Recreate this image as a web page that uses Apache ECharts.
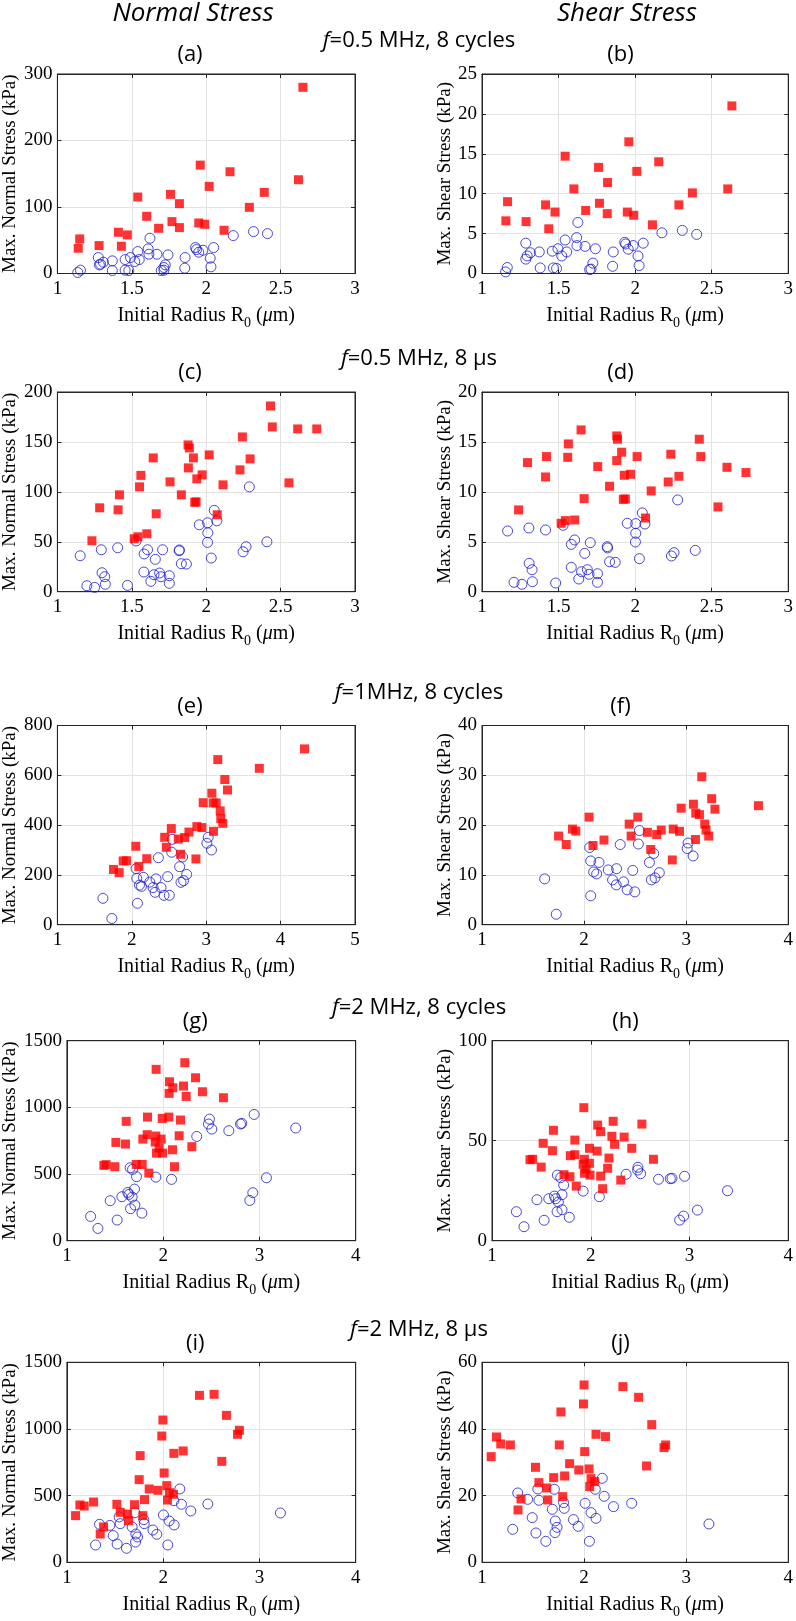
<!DOCTYPE html>
<html><head><meta charset="utf-8">
<script src="https://cdn.jsdelivr.net/npm/echarts@6.0.0/dist/echarts.min.js"></script>
<style>html,body{margin:0;padding:0;background:#fff}#c{width:796px;height:1621px}</style>
</head><body><div id="c"></div>
<script>
// ---------- data (R0 in um, stress in kPa) ----------
const aRed = [[2.65,280],[1.96,163],[2.16,153],[2.02,131],[2.62,141],[2.39,122],[1.54,115],[1.76,119],[1.82,105],[2.29,99.5],[1.60,86],[1.77,78],[1.95,76],[1.99,74],[1.68,68],[1.82,69],[2.12,65],[1.41,62],[1.47,58],[1.15,52],[1.28,42],[1.43,41],[1.14,38]];
const aBlue = [[2.318,63],[2.412,60],[2.182,57],[1.622,53],[2.05,39],[1.928,39],[1.935,36],[1.95,32],[1.978,35],[1.61,37],[1.54,33],[1.615,29],[1.669,29],[1.743,28],[1.858,24],[2.027,23],[1.275,24],[1.491,24],[1.455,21],[1.55,21],[1.52,18],[1.369,19],[1.309,17],[1.282,13],[1.29,14],[1.725,13],[1.716,9],[1.856,8],[2.032,10],[1.369,4.5],[1.455,5],[1.48,4.5],[1.698,4.5],[1.716,5],[1.155,5],[1.137,1.5]];
const bRed = [[2.632,21.0],[1.959,16.5],[1.543,14.7],[2.154,14.0],[1.761,13.3],[2.011,12.8],[1.82,11.4],[1.60,10.6],[2.605,10.6],[2.374,10.1],[1.167,9.0],[1.415,8.6],[1.767,8.8],[1.477,7.7],[1.677,7.9],[2.286,8.6],[1.949,7.7],[1.991,7.3],[1.818,7.5],[1.156,6.6],[1.288,6.5],[2.113,6.1],[1.436,5.6]];
const bBlue = [[2.402,4.9],[2.308,5.4],[2.175,5.1],[1.626,6.4],[1.618,4.5],[1.543,4.2],[1.62,3.5],[1.673,3.4],[1.741,3.1],[1.553,2.7],[1.521,2.2],[1.459,2.8],[1.496,3.1],[1.374,2.7],[1.316,2.6],[1.286,3.8],[1.295,2.2],[1.286,1.8],[2.053,3.8],[1.987,3.5],[1.932,3.9],[1.938,3.7],[1.955,3.05],[1.857,2.7],[2.019,2.2],[1.853,0.9],[2.026,1.0],[1.724,1.3],[1.712,0.55],[1.703,0.5],[1.466,0.7],[1.487,0.63],[1.38,0.7],[1.165,0.75],[1.154,0.2]];
const cRed = [[2.432,186],[2.444,165],[2.615,163],[2.743,163],[2.243,155],[1.878,147],[1.887,144],[1.644,134],[1.914,134],[2.02,137],[2.295,133],[1.88,124],[2.227,122],[1.561,116.5],[1.973,117],[1.937,113],[1.757,110],[2.113,107],[2.556,109],[1.552,105],[1.417,97],[1.833,97],[1.932,90],[1.923,89.5],[1.284,84],[1.408,82],[1.664,78],[2.074,77],[1.601,58],[1.541,55],[1.516,53],[1.232,51]];
const cBlue = [[2.29,105],[2.054,81.5],[2.072,71],[2.009,69],[1.953,67],[2.011,59],[2.009,49.4],[2.034,33.7],[2.408,50],[2.268,45],[2.248,40],[1.82,41.8],[1.818,41],[1.707,42],[1.606,42],[1.583,37.8],[1.529,50.8],[1.658,32.4],[1.405,44],[1.295,42],[1.153,36],[1.3,19],[1.318,15],[1.322,7.4],[1.198,6],[1.25,4.3],[1.471,6.3],[1.581,19.7],[1.649,17],[1.628,10.4],[1.687,18.7],[1.696,15],[1.752,16],[1.752,8.4],[1.833,28],[1.867,27.7]];
const dRed = [[1.297,12.93],[1.421,13.53],[1.564,14.8],[1.647,16.2],[1.56,13.46],[1.415,11.49],[1.239,8.19],[1.517,6.85],[1.545,7.12],[1.605,7.18],[1.667,9.32],[1.756,12.53],[1.833,10.56],[1.88,15.6],[1.885,15.27],[1.88,13.13],[1.912,13.97],[1.929,11.66],[1.97,11.76],[1.923,9.25],[1.936,9.29],[2.013,13.53],[2.105,10.09],[2.068,7.38],[2.216,10.99],[2.233,13.77],[2.286,11.56],[2.419,15.27],[2.429,13.53],[2.541,8.49],[2.6,12.46],[2.724,11.93]];
const dBlue = [[2.278,9.19],[2.047,7.89],[2.064,6.78],[2.004,6.82],[1.949,6.85],[2.004,5.85],[2.002,4.98],[2.028,3.31],[2.393,4.14],[2.254,3.91],[2.237,3.58],[1.818,4.51],[1.82,4.38],[1.707,4.91],[1.605,5.18],[1.583,4.74],[1.53,6.65],[1.671,3.84],[1.415,6.18],[1.306,6.38],[1.167,6.08],[1.308,2.84],[1.327,2.2],[1.329,1.0],[1.209,0.94],[1.261,0.74],[1.481,0.87],[1.583,2.44],[1.65,2.0],[1.632,1.27],[1.688,2.2],[1.699,1.74],[1.754,1.8],[1.754,0.94],[1.833,3.0],[1.87,2.94]];
const eRed = [[4.321,706],[3.156,663],[3.714,628],[3.25,583],[3.286,541],[3.076,528],[2.96,490],[3.094,489],[3.134,489],[3.188,457],[3.196,426],[3.223,407],[3.098,375],[2.531,386],[2.768,372],[2.875,394],[2.942,390],[2.625,344],[2.71,350],[2.442,351],[2.464,311],[2.054,315],[2.656,283],[2.862,264],[2.201,265],[1.884,256],[1.929,257],[2.094,234],[1.754,222],[1.83,209]];
const eBlue = [[3.027,351],[3.009,327],[3.071,300],[2.545,343],[2.536,291],[2.357,269],[2.683,272],[2.643,233],[2.058,225],[2.067,186],[2.156,190],[2.103,159],[2.13,154],[2.241,171],[2.326,184],[2.286,149],[2.313,130],[2.393,149],[2.482,193],[2.433,118],[2.504,118],[2.737,202],[2.696,177],[2.661,170],[2.076,86],[1.612,106],[1.732,25]];
const fRed = [[3.708,23.9],[3.153,29.7],[3.25,25.3],[3.282,23.2],[3.071,24.2],[3.094,22.4],[3.13,22.1],[2.951,23.4],[3.182,20.2],[3.195,19.0],[3.221,17.8],[3.091,17.1],[2.873,19.2],[2.935,18.75],[2.756,19.0],[2.711,18.1],[2.62,18.55],[2.653,15.1],[2.864,13.0],[2.526,21.6],[2.442,20.2],[2.461,17.8],[2.049,21.6],[2.195,17.0],[2.088,15.9],[1.886,19.2],[1.919,18.8],[1.825,16.1],[1.75,17.8]];
const fBlue = [[2.542,18.9],[2.532,16.2],[2.354,16.1],[2.055,15.5],[2.065,12.8],[2.146,12.5],[2.094,10.6],[2.123,10.2],[2.237,11.0],[2.318,11.25],[2.279,9.0],[2.315,8.0],[2.386,8.6],[2.422,7.0],[2.497,6.6],[2.477,10.9],[2.64,12.5],[2.682,14.3],[2.659,9.0],[2.695,9.4],[2.737,10.45],[3.019,16.4],[3.01,15.3],[3.068,13.8],[2.065,5.8],[1.614,9.2],[1.727,2.1]];
const gRed = [[2.225,1335],[1.927,1285],[2.336,1222],[2.066,1192],[2.211,1160],[2.1,1147],[2.408,1117],[2.062,1105],[2.239,1082],[2.626,1072],[1.616,895],[1.837,927],[1.99,917],[2.059,927],[2.18,905],[1.834,795],[2.166,787],[1.789,762],[1.924,785],[1.979,762],[1.917,740],[1.509,737],[1.609,725],[1.958,695],[2.097,682],[2.298,705],[1.931,657],[1.993,657],[1.384,565],[1.408,570],[1.498,555],[1.72,572],[1.782,572],[2.118,555],[1.851,507]];
const gBlue = [[2.945,947],[2.481,912],[2.471,875],[2.505,837],[2.682,825],[2.803,875],[2.817,880],[3.377,845],[2.349,782],[1.657,547],[1.682,535],[1.723,480],[1.924,477],[2.087,460],[3.073,472],[2.931,360],[2.9,302],[1.702,387],[1.633,362],[1.644,347],[1.571,330],[1.678,327],[1.45,300],[1.706,267],[1.661,240],[1.779,207],[1.522,155],[1.246,182],[1.322,92]];
const hRed = [[1.93,66.5],[2.07,57.8],[2.227,59.7],[2.518,58.3],[2.1,54.5],[1.622,55.2],[1.518,48.7],[1.839,50.3],[2.214,52.2],[2.338,51.8],[2.241,48.2],[2.064,44.8],[1.987,46.2],[1.612,45],[2.415,46.2],[2.635,40.7],[1.385,40.5],[1.411,40.7],[1.498,36.8],[1.793,42.5],[1.839,43],[1.936,40.7],[1.923,38.2],[1.987,38.7],[2.184,41.3],[1.953,35.8],[1.993,32.8],[1.936,33.7],[1.729,33],[1.789,32],[2.1,32.3],[2.171,36.2],[2.304,30.3],[1.853,27.3],[2.12,26]];
const hBlue = [[2.478,36.7],[2.475,35.3],[2.505,33.5],[2.358,33.2],[2.686,30.7],[2.806,31],[2.823,31.2],[2.95,32.2],[3.385,25],[1.662,32.8],[1.696,31.5],[1.726,27.8],[1.923,24.8],[2.087,22],[3.08,15.3],[2.94,12.3],[2.9,10.3],[1.455,20.5],[1.575,21],[1.632,22.3],[1.645,21],[1.672,19.3],[1.709,23],[1.709,15.5],[1.659,14.5],[1.783,11.7],[1.247,14.5],[1.528,10.2],[1.324,7]];
const iRed = [[2.377,1252],[2.529,1260],[2.657,1102],[1.997,1067],[1.986,947],[2.772,960],[2.792,990],[2.208,835],[2.111,817],[1.761,800],[2.609,757],[2.01,670],[1.751,620],[2.038,575],[1.855,550],[1.945,540],[2.066,522],[2.107,510],[2.045,467],[1.806,470],[1.277,452],[1.135,430],[1.18,422],[1.519,435],[1.702,432],[1.09,350],[1.554,375],[1.63,362],[1.789,350],[1.64,312],[1.381,265],[1.346,212]];
const iBlue = [[2.173,550],[2.111,462],[2.19,435],[2.464,437],[2.287,385],[3.218,370],[2.003,355],[2.062,310],[2.114,280],[1.799,320],[1.803,290],[1.706,372],[1.543,340],[1.554,290],[1.678,265],[1.446,277],[1.339,285],[1.893,242],[1.934,210],[1.481,200],[1.716,212],[1.734,190],[1.713,152],[1.522,137],[1.298,130],[1.619,105],[2.048,130]];
const jRed = [[2.0,53.2],[2.38,52.7],[2.534,49.5],[1.994,47.5],[1.773,45.1],[2.663,41.3],[2.117,38.4],[2.21,37.7],[1.142,37.6],[1.184,35.5],[1.278,35.2],[1.757,35.2],[2.799,35.2],[2.783,34.4],[2.006,33.2],[1.09,31.7],[1.858,29.6],[1.948,27.7],[2.049,28.0],[2.612,28.9],[1.524,28.5],[1.557,23.9],[1.702,25.4],[1.809,25.9],[1.634,22.3],[2.068,25.1],[2.104,24.2],[2.055,22.7],[1.382,19.0],[1.79,19.7],[1.644,18.7],[1.353,15.7]];
const jBlue = [[2.178,25.2],[2.11,21.9],[2.197,19.8],[2.288,16.7],[2.466,17.7],[3.223,11.5],[2.01,17.7],[2.068,14.9],[2.117,13.2],[1.799,17.9],[1.806,16.2],[1.709,21.9],[1.547,22.0],[1.557,18.6],[1.447,18.9],[1.35,20.8],[1.492,13.4],[1.689,15.9],[1.718,12.4],[1.735,10.5],[1.715,8.9],[1.896,12.8],[1.942,10.8],[1.301,9.9],[1.528,8.8],[1.625,6.3],[2.052,6.3]];

// axis ranges [min, max, interval]
const xRanges = [[1,3,0.5],[1,3,0.5],[1,3,0.5],[1,3,0.5],[1,5,1],[1,4,1],[1,4,1],[1,4,1],[1,4,1],[1,4,1]];
const yRanges = [[0,300,100],[0,25,5],[0,200,50],[0,20,5],[0,800,200],[0,40,10],[0,1500,500],[0,100,50],[0,1500,500],[0,60,20]];
const panelLabels = ['(a)','(b)','(c)','(d)','(e)','(f)','(g)','(h)','(i)','(j)'];
const yNames = ['Max. Normal Stress (kPa)','Max. Shear Stress (kPa)'];
const colHeads = ['Normal Stress','Shear Stress'];
const rowTitles = ['=0.5 MHz, 8 cycles','=0.5 MHz, 8 \u03bcs','=1MHz, 8 cycles','=2 MHz, 8 cycles','=2 MHz, 8 \u03bcs'];

// ---------- layout ----------
const boxes = [
  [57,74,298,199.5],[482,74,309,199.5],
  [57,392,298,199.7],[482,392,309,199.7],
  [57,725.5,298,199.2],[482,725.5,309,199.2],
  [66.7,1040.7,289,200],[492,1040.7,299,200],
  [66.7,1362.3,289,200],[482,1362.3,309,200]
];
const yNameGap = [36,25,36,25,36,25,46,35,46,25];
const reds = [aRed,bRed,cRed,dRed,eRed,fRed,gRed,hRed,iRed,jRed];
const blues = [aBlue,bBlue,cBlue,dBlue,eBlue,fBlue,gBlue,hBlue,iBlue,jBlue];

const serif = 'Liberation Serif';
const sans = 'Open Sans';
const ink = '#262626';
const plain = v => String(v);

const grid=[], xAxis=[], yAxis=[], series=[], graphic=[];
boxes.forEach((b,i)=>{
  grid.push({left:b[0],top:b[1],width:b[2],height:b[3],show:true,borderColor:ink,borderWidth:1,backgroundColor:'transparent'});
  const common = {gridIndex:i,type:'value'};
  xAxis.push(Object.assign({},common,{
    min:xRanges[i][0],max:xRanges[i][1],interval:xRanges[i][2],
    axisLine:{show:true,onZero:false,lineStyle:{color:ink,width:1}},
    axisTick:{show:true,inside:true,length:4,lineStyle:{color:ink}},
    axisLabel:{color:'#000',fontFamily:serif,fontSize:19,margin:6,formatter:plain},
    splitLine:{show:true,lineStyle:{color:'#e3e3e3',width:1}},
    name:'{n|Initial Radius R}{s|0}{n| (}{it|\u03bc}{n|m)}',
    nameLocation:'middle',nameGap:27,
    nameTextStyle:{rich:{
      n:{fontFamily:serif,fontSize:20,color:'#000'},
      it:{fontFamily:serif,fontSize:20,fontStyle:'italic',color:'#000'},
      s:{fontFamily:serif,fontSize:14,color:'#000',padding:[16,0,0,0]}
    }}
  }));
  xAxis.push(Object.assign({},common,{
    position:'top',min:xRanges[i][0],max:xRanges[i][1],interval:xRanges[i][2],
    axisLine:{show:true,onZero:false,lineStyle:{color:ink}},
    axisTick:{show:true,inside:true,length:4,lineStyle:{color:ink}},
    axisLabel:{show:false},splitLine:{show:false}
  }));
  yAxis.push(Object.assign({},common,{
    min:yRanges[i][0],max:yRanges[i][1],interval:yRanges[i][2],
    axisLine:{show:true,onZero:false,lineStyle:{color:ink,width:1}},
    axisTick:{show:true,inside:true,length:4,lineStyle:{color:ink}},
    axisLabel:{color:'#000',fontFamily:serif,fontSize:19,margin:5,formatter:plain},
    splitLine:{show:true,lineStyle:{color:'#e3e3e3',width:1}},
    name:yNames[i%2],nameLocation:'middle',nameGap:yNameGap[i],
    nameTextStyle:{fontFamily:serif,fontSize:19,color:'#000'}
  }));
  yAxis.push(Object.assign({},common,{
    position:'right',min:yRanges[i][0],max:yRanges[i][1],interval:yRanges[i][2],
    axisLine:{show:true,onZero:false,lineStyle:{color:ink}},
    axisTick:{show:true,inside:true,length:4,lineStyle:{color:ink}},
    axisLabel:{show:false},splitLine:{show:false}
  }));
  series.push({type:'scatter',xAxisIndex:2*i,yAxisIndex:2*i,data:blues[i],symbol:'circle',symbolSize:10,
    itemStyle:{color:'rgba(0,0,0,0)',borderColor:'#1c1ccc',borderWidth:1},silent:true});
  series.push({type:'scatter',xAxisIndex:2*i,yAxisIndex:2*i,data:reds[i],symbol:'rect',symbolSize:9,
    itemStyle:{color:'#ff0000'},silent:true});
  graphic.push({type:'text',x:b[0]+b[2]/2-16,y:b[1]-19,
    style:{text:panelLabels[i],font:'22px "Open Sans"',fill:'#000',align:'center',verticalAlign:'middle'}});
});
boxes.filter((b,i)=>i%2===0).forEach((b,r)=>{
  graphic.push({type:'text',x:419,y:b[1]-33,
    style:{text:'{i|f}{n|'+rowTitles[r]+'}',align:'center',verticalAlign:'middle',
      rich:{i:{fontFamily:sans,fontSize:22,fontStyle:'italic',fill:'#000',color:'#000'},
            n:{fontFamily:sans,fontSize:22,fill:'#000',color:'#000'}}}});
});
graphic.push({type:'text',x:193,y:14,style:{text:colHeads[0],font:'italic 26px "Open Sans"',fill:'#000',align:'center',verticalAlign:'middle'}});
graphic.push({type:'text',x:627,y:14,style:{text:colHeads[1],font:'italic 26px "Open Sans"',fill:'#000',align:'center',verticalAlign:'middle'}});

const chart = echarts.init(document.getElementById('c'),null,{renderer:'canvas'});
chart.setOption({animation:false,backgroundColor:'#fff',grid,xAxis,yAxis,series,graphic});
</script></body></html>
